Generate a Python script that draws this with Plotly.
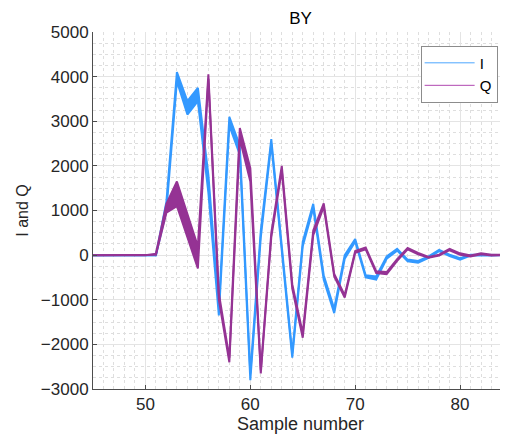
import plotly.graph_objects as go

samples = list(range(45, 85))

# I channel: lower / upper envelope of the bundle of traces
I_lo = [0, 0, 0, 0, 0, 0, 0, 1000, 3900, 3150, 3450, 1400, -1350, 2900, 2250, -2800,
        400, 2500, 50, -2300, 200, 1050, -550, -1300, -80, 300, -500, -550, -80, 100,
        -140, -170, -60, 90, -20, -100, -10, 0, -10, 0]
I_hi = [0, 0, 0, 0, 0, 0, 0, 1200, 4100, 3450, 3750, 1800, -1150, 3100, 2450, -2650,
        550, 2600, 150, -2200, 300, 1150, -450, -1200, 0, 360, -450, -480, -30, 140,
        -100, -130, -30, 120, 10, -70, 10, 10, 0, 0]

# Q channel
Q_lo = [0, 0, 0, 0, 0, 0, 10, 950, 1100, 400, -300, 3950, -1000, -2400, 2600, 1650,
        -2650, 400, 1900, -750, -1850, 450, 1080, -480, -950, 50, 130, -400, -430, -130,
        130, 20, -60, -10, 110, 10, -30, 20, -10, 0]
Q_hi = [0, 0, 0, 0, 0, 0, 30, 1150, 1650, 900, 200, 4050, -850, -2300, 2850, 1950,
        -2580, 500, 2000, -650, -1750, 550, 1160, -420, -900, 90, 170, -360, -380, -90,
        160, 50, -40, 10, 140, 40, -10, 40, 10, 10]

x_ticks = [50, 60, 70, 80]
y_ticks = [-3000, -2000, -1000, 0, 1000, 2000, 3000, 4000, 5000]

BLUE = "#3399ff"
PURPLE = "#953394"
FONT = "Liberation Sans, Arial, Helvetica, sans-serif"
TXT = "#262626"

fig = go.Figure()
for lo, hi, col in [(I_lo, I_hi, BLUE), (Q_lo, Q_hi, PURPLE)]:
    fig.add_trace(go.Scatter(x=samples, y=lo, mode="lines",
                             line=dict(color=col, width=2), showlegend=False,
                             hoverinfo="skip"))
    fig.add_trace(go.Scatter(x=samples, y=hi, mode="lines",
                             line=dict(color=col, width=2), fill="tonexty",
                             fillcolor=col, showlegend=False, hoverinfo="skip"))

# legend entries
fig.add_trace(go.Scatter(x=[None], y=[None], mode="lines", name="I",
                         line=dict(color="#4da6ff", width=1)))
fig.add_trace(go.Scatter(x=[None], y=[None], mode="lines", name="Q",
                         line=dict(color="#b048b0", width=1)))

axis_common = dict(
    showline=True, linecolor="#4d4d4d", linewidth=1, mirror=False,
    ticks="inside", ticklen=4, tickcolor="#4d4d4d",
    showgrid=True, gridcolor="#e4e4e4", gridwidth=1, zeroline=False,
    tickfont=dict(family=FONT, size=17, color=TXT),
    automargin=False,
)

# page body adds an 8px offset, so the figure is 500x427 placed at (8, 8)
W, H = 500, 427
fig.update_layout(
    width=W, height=H,
    margin=dict(l=85, r=0, t=24, b=46, pad=0),
    paper_bgcolor="white", plot_bgcolor="white",
    font=dict(family=FONT, color=TXT),
    title=dict(text="BY", x=0.5, xref="paper", xanchor="center",
               y=1 - 10 / H, yref="container", yanchor="middle",
               font=dict(family=FONT, size=17, color="#000000")),
    xaxis=dict(range=[45, 84.57], tickvals=x_ticks,
               minor=dict(dtick=1, tick0=45, showgrid=True, gridcolor="#dedede",
                          griddash="dot", gridwidth=1),
               title=dict(text="Sample number", font=dict(family=FONT, size=18, color=TXT),
                          standoff=2),
               **axis_common),
    yaxis=dict(range=[-3000, 5000], tickvals=y_ticks,
               minor=dict(dtick=250, tick0=0, showgrid=True, gridcolor="#dedede",
                          griddash="dot", gridwidth=1),
               title=dict(text="I and Q", font=dict(family=FONT, size=16, color=TXT),
                          standoff=8),
               **axis_common),
    legend=dict(x=0.975, xanchor="right", y=0.962, yanchor="top",
                bgcolor="white", bordercolor="#8c8c8c", borderwidth=1,
                font=dict(family=FONT, size=15, color="#000000"),
                itemwidth=50, tracegroupgap=0, traceorder="normal",
                indentation=-2),
    showlegend=True,
)

fig.write_html("out.html")
